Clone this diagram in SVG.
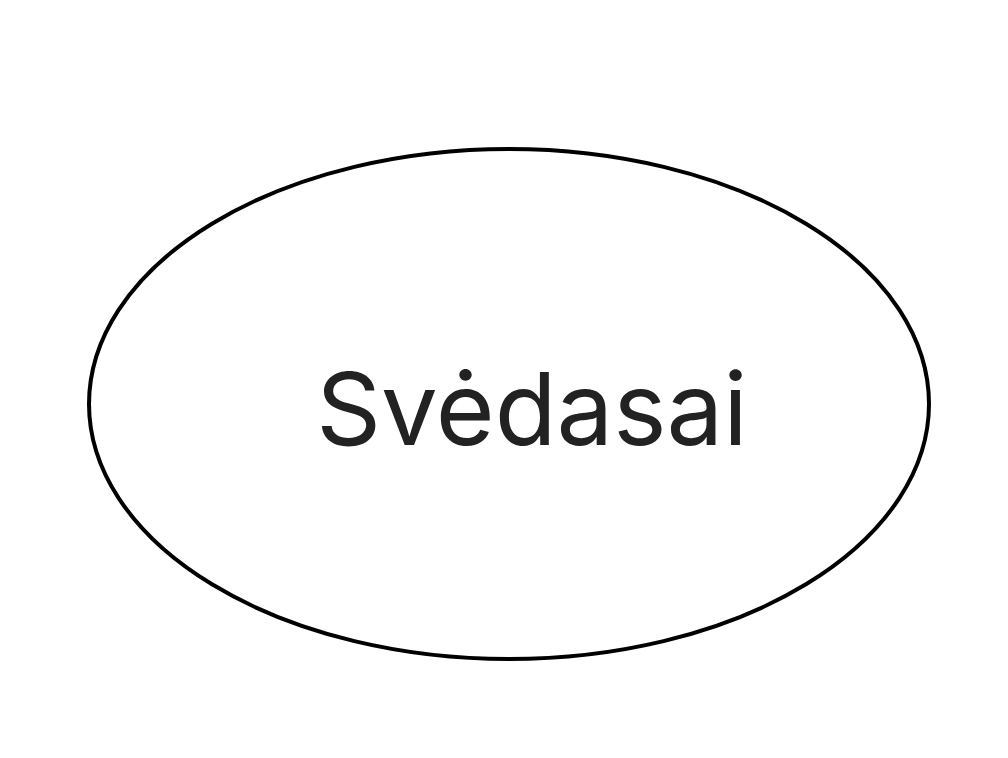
<svg xmlns="http://www.w3.org/2000/svg" width="1008" height="758" viewBox="0 0 1008 758">
<style>
.node-shape{fill:#ffffff;stroke:#000000;stroke-width:4}
.node-label{font-family:Inter,"Liberation Sans",sans-serif;font-size:101px;fill:#222222;text-anchor:middle}
</style>
<rect width="1008" height="758" fill="#ffffff"/>
<g id="connectors"></g>
<g id="node-svedasai">
<ellipse class="node-shape" cx="509" cy="404" rx="420" ry="255"/>
<text class="node-label" x="532" y="445">Svėdasai</text>
</g>
</svg>
